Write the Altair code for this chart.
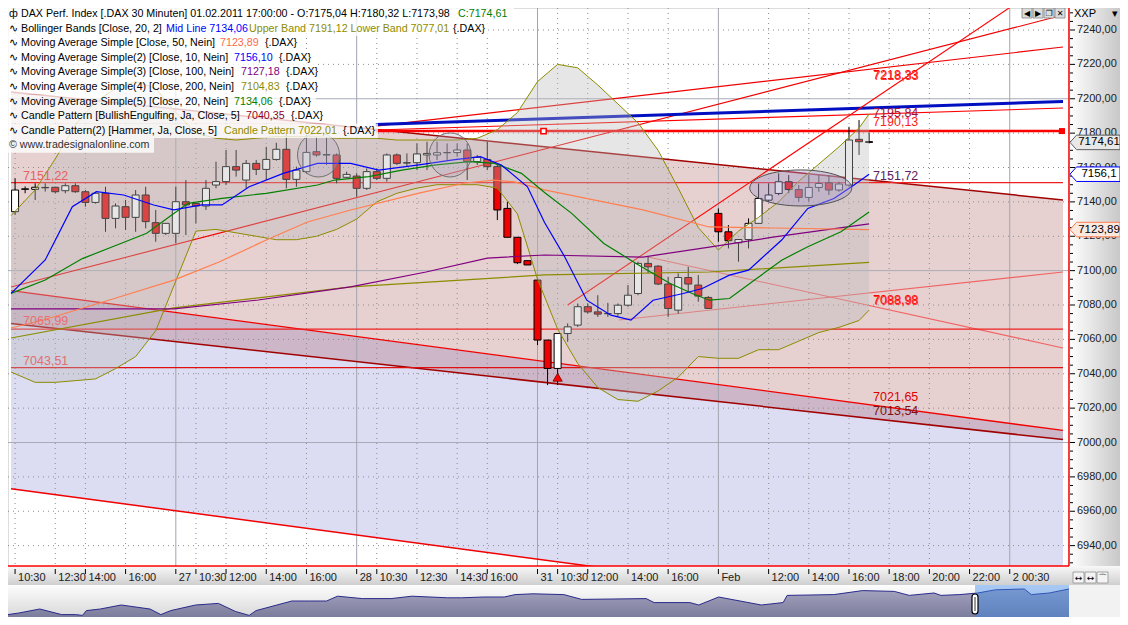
import altair as alt
import pandas as pd

W, H = 1060, 558
I_LO, I_HI = -0.206, 104.3
V_LO, V_HI = 6928.15, 7252.8
FONT = "Liberation Sans"

# ---------------- candles: 30-minute bars, bar 0 = 26.01. 10:30, bar 85 = 01.02. 17:00
c_open = [7134.3, 7147.3, 7147.3, 7148.2, 7148.5, 7146.5, 7149.4, 7145.9, 7139.7, 7145.0,
          7130.4, 7137.2, 7131.0, 7144.0, 7127.9, 7121.7, 7121.7, 7140.1, 7139.1, 7137.6,
          7149.8, 7151.8, 7160.5, 7152.7, 7162.4, 7158.9, 7164.7, 7170.6, 7153.1, 7157.6,
          7169.2, 7167.5, 7167.3, 7154.3, 7155.0, 7147.9, 7157.6, 7153.7, 7167.3, 7162.6,
          7162.8, 7167.3, 7167.3, 7168.6, 7168.7, 7170.2, 7163.4, 7164.7, 7160.5, 7136.2,
          7119.4, 7105.8, 7094.5, 7059.6, 7043.1, 7063.4, 7068.3, 7079.0, 7076.0, 7075.0,
          7075.0, 7079.9, 7086.7, 7104.2, 7102.6, 7092.2, 7077.0, 7096.0, 7091.6, 7084.4,
          7133.3, 7122.6, 7116.2, 7118.1, 7127.5, 7141.0, 7144.9, 7151.7, 7147.2, 7142.6,
          7148.4, 7151.1, 7146.9, 7149.8, 7176.4, 7175.04]
c_high = [7153.7, 7149.0, 7150.8, 7150.8, 7148.8, 7150.8, 7150.8, 7146.9, 7145.9, 7148.8,
          7139.1, 7141.1, 7146.9, 7148.8, 7135.3, 7127.5, 7148.8, 7152.7, 7139.1, 7152.7,
          7163.4, 7170.2, 7170.2, 7164.4, 7164.4, 7172.0, 7174.4, 7180.0, 7160.5, 7179.0,
          7178.0, 7178.0, 7168.2, 7157.6, 7156.6, 7159.5, 7159.5, 7168.2, 7168.2, 7168.2,
          7174.0, 7175.0, 7175.0, 7174.0, 7174.0, 7174.0, 7167.3, 7175.0, 7162.4, 7140.1,
          7119.4, 7105.8, 7095.5, 7059.6, 7063.4, 7069.3, 7080.9, 7080.9, 7085.7, 7081.3,
          7080.9, 7091.6, 7105.2, 7108.1, 7103.2, 7096.4, 7098.4, 7102.2, 7097.4, 7085.2,
          7136.2, 7126.5, 7118.1, 7130.4, 7150.7, 7150.7, 7156.6, 7155.6, 7149.8, 7155.6,
          7155.6, 7155.6, 7151.7, 7183.7, 7187.6, 7180.32]
c_low = [7132.4, 7145.0, 7141.1, 7146.0, 7145.0, 7145.0, 7145.3, 7137.2, 7139.0, 7122.6,
         7124.6, 7123.6, 7122.6, 7124.6, 7116.8, 7120.7, 7115.9, 7120.7, 7127.5, 7135.3,
         7147.9, 7149.8, 7154.7, 7147.9, 7155.6, 7152.7, 7164.0, 7147.9, 7148.8, 7156.6,
         7166.3, 7161.5, 7150.8, 7153.7, 7143.0, 7146.9, 7152.7, 7151.8, 7161.5, 7160.5,
         7158.5, 7158.5, 7164.4, 7164.4, 7166.3, 7152.7, 7161.5, 7158.5, 7129.4, 7119.4,
         7103.8, 7103.3, 7056.7, 7033.4, 7033.4, 7058.6, 7067.3, 7075.0, 7073.1, 7073.1,
         7073.1, 7079.0, 7085.7, 7098.4, 7091.6, 7073.1, 7075.0, 7087.7, 7081.9, 7078.0,
         7116.8, 7112.9, 7105.2, 7112.9, 7127.5, 7140.1, 7143.9, 7145.0, 7140.1, 7140.1,
         7145.9, 7144.0, 7145.9, 7148.8, 7167.3, 7173.98]
c_close = [7146.9, 7147.6, 7148.5, 7148.4, 7145.9, 7149.4, 7145.9, 7139.7, 7145.0, 7130.4,
           7137.6, 7131.0, 7144.0, 7128.5, 7121.7, 7127.5, 7140.1, 7138.2, 7137.6, 7147.9,
           7151.8, 7160.5, 7158.5, 7162.4, 7158.9, 7164.7, 7170.6, 7153.1, 7158.5, 7168.8,
           7167.3, 7167.3, 7153.7, 7156.0, 7147.9, 7157.6, 7153.7, 7167.3, 7162.4, 7162.8,
           7167.9, 7168.2, 7168.6, 7168.7, 7170.2, 7163.4, 7165.9, 7160.5, 7135.3, 7119.4,
           7104.6, 7103.3, 7059.6, 7043.1, 7063.4, 7067.3, 7079.0, 7076.0, 7074.7, 7075.0,
           7079.9, 7085.7, 7104.2, 7102.2, 7092.2, 7078.0, 7096.0, 7092.2, 7085.2, 7078.0,
           7122.6, 7117.4, 7118.1, 7127.5, 7142.0, 7144.0, 7151.7, 7147.2, 7142.6, 7148.4,
           7150.7, 7146.9, 7150.4, 7176.0, 7175.0, 7174.61]

# ---------------- Bollinger Bands (20, 2)
bb_i = [-0.4, 2, 4, 6, 8, 10, 12, 14, 16, 18, 20, 22, 24, 26, 28, 30, 32, 34, 36, 38, 40, 42,
        44, 46, 48, 50, 52, 54, 56, 58, 60, 62, 64, 66, 68, 70, 72, 74, 76, 78, 80, 82, 84, 85]
bb_upper = [7132, 7147, 7165, 7185, 7198, 7206, 7210, 7206, 7192, 7180, 7177, 7176, 7177, 7178,
            7178, 7178, 7177, 7177, 7177, 7176, 7176, 7176, 7176, 7177, 7182, 7192, 7210, 7220,
            7218, 7208, 7197, 7186, 7170, 7148, 7125, 7112, 7123, 7131, 7140, 7152, 7162, 7172,
            7183, 7191.12]
bb_lower = [7041, 7035, 7035, 7036, 7037, 7043, 7050, 7065, 7094, 7123, 7124, 7122, 7120, 7118,
            7118, 7120, 7124, 7130, 7140, 7145, 7148, 7150, 7150, 7150, 7148, 7133, 7095, 7066,
            7046, 7032, 7025, 7024, 7030, 7038, 7050, 7049, 7049, 7054, 7054, 7059, 7064, 7067,
            7071, 7077.01]

# ---------------- moving averages
ma10_i = [-0.4, 3.0, 5.7, 8.1, 10.8, 13.8, 15.8, 18.6, 20.6, 23.3, 26.7, 30.1, 33.4, 36.2, 40.2,
          43.6, 46.3, 48.4, 51.0, 52.7, 54.7, 56.9, 59.3, 61.3, 63.5, 66.5, 68.4, 71.1, 73.0, 76.3,
          78.9, 81.5, 83.5, 85.0]
ma10_v = [7086.8, 7106.2, 7137.2, 7145.9, 7144.0, 7138.2, 7135.3, 7138.2, 7138.2, 7148.8, 7156.6,
          7162.4, 7162.4, 7158.5, 7161.5, 7164.4, 7166.3, 7161.5, 7148.8, 7128.0, 7108.1, 7082.8,
          7074.1, 7071.2, 7082.8, 7086.7, 7089.6, 7097.4, 7100.3, 7117.8, 7136.2, 7142.0, 7149.8,
          7156.10]
ma20_i = [-0.4, 3.0, 6.7, 9.7, 13.1, 15.8, 17.2, 20.6, 25.0, 30.1, 31.8, 35.2, 38.5, 41.9, 45.3,
          47.7, 50.4, 52.7, 55.4, 58.6, 61.8, 65.2, 67.4, 69.1, 71.1, 73.6, 76.3, 78.9, 82.2, 85.0]
ma20_v = [7086.8, 7094.5, 7107.0, 7113.9, 7121.7, 7133.3, 7139.1, 7142.0, 7145.0, 7149.8, 7152.7,
          7154.7, 7158.5, 7161.5, 7163.4, 7162.4, 7156.6, 7145.5, 7133.3, 7115.8, 7104.2, 7092.5,
          7086.7, 7082.8, 7083.8, 7094.5, 7106.1, 7113.9, 7122.6, 7134.06]
ma50_i = [-0.4, 2.8, 9.4, 15.8, 20.3, 25.0, 29.1, 33.4, 40.2, 44.8, 47.7, 49.7, 52.7, 56.6, 62.5,
          69.1, 75.6, 85.0]
ma50_v = [7066.6, 7071.3, 7082.9, 7094.5, 7105.0, 7117.8, 7128.3, 7135.3, 7145.1, 7151.0, 7152.7,
          7151.6, 7147.0, 7142.3, 7135.3, 7125.4, 7124.8, 7123.89]
ma100_i = [-0.4, 15.8, 24.2, 33.4, 40.9, 47.0, 52.7, 62.5, 69.1, 75.6, 85.0]
ma100_v = [7077.7, 7077.7, 7082.9, 7090.5, 7099.2, 7107.3, 7109.1, 7107.9, 7113.7, 7119.6, 7127.18]
ma200_i = [-0.4, 15.8, 33.4, 52.7, 69.1, 85.0]
ma200_v = [7060.8, 7078.3, 7090.5, 7097.5, 7099.2, 7104.83]

# ---------------- drawn trendlines / levels (start bar, start price, end bar, end price)
tl_name = ["d", "a", "b", "c", "h", "g", "blue", "thin", "lvl", "f", "k", "m", "l1", "l2", "l3"]
tl_i0 = [-0.4, -0.4, -0.4, -0.4, -0.4, 35.9, 35.9, 35.9, 35.9, 55.0, 60.1, 63.0, -0.4, -0.4, -0.4]
tl_v0 = [7203.9, 7088.4, 7069.2, 6973.1, 7090.5, 7184.1, 7185.0, 7181.8, 7181.2, 7080.0, 7071.3,
         7107.9, 7151.22, 7065.99, 7043.51]
tl_i1 = [104.3, 104.3, 104.3, 104.3, 104.3, 104.3, 104.3, 104.3, 104.3, 100.1, 104.3, 104.3,
         104.3, 104.3, 104.3]
tl_v1 = [7141.1, 7007.0, 7001.7, 6891.3, 7248.7, 7230.1, 7198.4, 7194.6, 7181.2, 7257.4, 7099.2,
         7055.0, 7151.22, 7065.99, 7043.51]
tl_color = ["#a00000", "#f00000", "#a00000", "#f00000", "#f00000", "#f00000", "#0010c0", "#ff0000",
            "#ff0000", "#ff0000", "#f06464", "#f06464", "#f02020", "#f02020", "#e01010"]
tl_width = [1.5, 1.3, 1.5, 1.5, 1.1, 1.1, 3.0, 1.1, 2.5, 1.1, 1.1, 1.1, 1.2, 1.2, 1.2]

lab_text = ["7218,33", "7218,33", "7195,84", "7190,13", "7151,72", "7088,98", "7088,98",
            "7021,65", "7013,54", "7151,22", "7065,99", "7043,51"]
lab_i = [85.4, 85.45, 85.4, 85.4, 85.4, 85.4, 85.45, 85.4, 85.4, 0.8, 0.8, 0.8]
lab_v = [7213.8, 7213.3, 7191.7, 7186.5, 7155.1, 7082.9, 7082.4, 7026.5, 7018.3, 7155.1, 7070.7,
         7047.4]
lab_col = ["#ff0000", "#ff3030", "#a01040", "#ff2020", "#602060", "#ff0000", "#ff3030",
           "#e00000", "#801010", "#e86060", "#e87070", "#e07070"]

# ---------------- axis ticks
xt_i = [0, 4, 7, 11, 16, 18, 21, 25, 29, 34, 36, 40, 44, 47, 52, 54, 57, 61, 65, 70, 75, 79, 83,
        87, 91, 95, 99]
xt_lab = ["10:30", "12:30", "14:00", "16:00", "27", "10:30", "12:00", "14:00", "16:00", "28",
          "10:30", "12:30", "14:30", "16:00", "31", "10:30", "12:00", "14:00", "16:00", "Feb",
          "12:00", "14:00", "16:00", "18:00", "20:00", "22:00", "2 00:30"]
day_labels = {"27", "28", "31", "Feb", "2 00:30"}
yt_major = list(range(6940, 7241, 20))
yt_minor = [v for v in range(6930, 7251, 5) if v % 20 != 0]

tag_v = [7174.61, 7156.1, 7123.89]
tag_lab = ["7174,61", "7156,1", "7123,89"]

# ---------------- overview strip (long-term history)
ov_t = [0, 11, 32, 54, 68, 75, 79, 93, 114, 143, 154, 164, 189, 212, 229, 243, 250, 271, 286,
        304, 321, 332, 357, 386, 407, 443, 457, 479, 500, 511, 529, 560, 578, 643, 651, 687, 696,
        716, 759, 781, 785, 832, 861, 893, 908, 933, 940, 959, 977, 995, 1024, 1031, 1049, 1069]
ov_level = [3, 5, 10, 3, 3, 2, 8, 10, 15, 10, 3, 8, 15, 17, 7, 2, 8, 15, 20, 20, 20, 26, 23, 23,
            26, 24, 24, 25, 25, 28, 29, 28, 22, 23, 18, 18, 15, 25, 15, 18, 27, 28, 33, 32, 27,
            30, 27, 28, 30, 34, 35, 28, 30, 35]

# ================= build =================
xs = alt.Scale(domain=[I_LO, I_HI], nice=False, zero=False)
ys = alt.Scale(domain=[V_LO, V_HI], nice=False, zero=False)


def xq(f):
    return alt.X(f"{f}:Q", scale=xs, axis=None)


def yq(f):
    return alt.Y(f"{f}:Q", scale=ys, axis=None)


def pxx(f):
    return alt.X(f"{f}:Q", scale=None, axis=None)


def pxy(f):
    return alt.Y(f"{f}:Q", scale=None, axis=None)


one = pd.DataFrame({"a": [0]})
T = {n: k for k, n in enumerate(tl_name)}


def band(top, bot):
    return pd.DataFrame({"i": [tl_i0[T[top]], tl_i1[T[top]]],
                         "top": [tl_v0[T[top]], tl_v1[T[top]]],
                         "bot": [tl_v0[T[bot]], tl_v1[T[bot]]]})


layers = []
# background channel fills
for top, bot, col in [("d", "a", "#e7d0d0"), ("a", "b", "#cdb6c8"), ("b", "c", "#dcdcf2")]:
    layers.append(alt.Chart(band(top, bot)).mark_area(clip=True, color=col, opacity=1)
                  .encode(x=xq("i"), y=yq("bot"), y2="top:Q"))

# grid
hg = pd.DataFrame({"v": yt_major})
hg["solid"] = [v % 100 == 0 for v in yt_major]
layers.append(alt.Chart(hg[~hg.solid]).mark_rule(color="#8c8c8c", strokeDash=[1, 4], strokeWidth=1)
              .encode(y=yq("v"), x=alt.value(0), x2=alt.value(1061)))
layers.append(alt.Chart(hg[hg.solid]).mark_rule(color="#a9acb8", strokeWidth=1)
              .encode(y=yq("v"), x=alt.value(0), x2=alt.value(1061)))
vg = pd.DataFrame({"i": xt_i, "lab": xt_lab})
vg["day"] = vg.lab.isin(day_labels)
layers.append(alt.Chart(vg[~vg.day]).mark_rule(color="#8c8c8c", strokeDash=[1, 4], strokeWidth=1)
              .encode(x=xq("i"), y=alt.value(0), y2=alt.value(H)))
layers.append(alt.Chart(vg[vg.day]).mark_rule(color="#a4a4b0", strokeWidth=1)
              .encode(x=xq("i"), y=alt.value(0), y2=alt.value(H)))

# trendlines
rows = []
for k, n in enumerate(tl_name):
    rows.append({"seg": n, "i": tl_i0[k], "v": tl_v0[k], "col": tl_color[k], "w": tl_width[k]})
    rows.append({"seg": n, "i": tl_i1[k], "v": tl_v1[k], "col": tl_color[k], "w": tl_width[k]})
tl_df = pd.DataFrame(rows)
layers.append(alt.Chart(tl_df).mark_line(clip=True).encode(
    x=xq("i"), y=yq("v"), detail="seg:N",
    color=alt.Color("col:N", scale=None), strokeWidth=alt.StrokeWidth("w:Q", scale=None)))

# candles
bars = pd.DataFrame({"i": list(range(len(c_open))), "open": c_open, "high": c_high,
                     "low": c_low, "close": c_close})
bars["fill"] = ["#ffffff" if c >= o else "#f00000" for o, c in zip(c_open, c_close)]
layers.append(alt.Chart(bars).mark_rule(color="#000000", strokeWidth=1)
              .encode(x=xq("i"), y=yq("low"), y2="high:Q"))
layers.append(alt.Chart(bars).mark_bar(size=7, stroke="#000000", strokeWidth=1)
              .encode(x=xq("i"), y=yq("open"), y2="close:Q", fill=alt.Fill("fill:N", scale=None)))

# Bollinger cloud
bb = pd.DataFrame({"i": bb_i, "up": bb_upper, "lo": bb_lower})
layers.append(alt.Chart(bb).mark_area(clip=True, color="#bbbbbb", opacity=0.36)
              .encode(x=xq("i"), y=yq("lo"), y2="up:Q"))
for f in ["up", "lo"]:
    layers.append(alt.Chart(bb).mark_line(clip=True, color="#8c8c00", strokeWidth=1)
                  .encode(x=xq("i"), y=yq(f)))

# moving averages
mrows = []
for name, col, ii, vv in [("MA200", "#8c8c00", ma200_i, ma200_v), ("MA100", "#800080", ma100_i, ma100_v),
                          ("MA50", "#ff7f50", ma50_i, ma50_v), ("MA20", "#008000", ma20_i, ma20_v),
                          ("MA10", "#0000ff", ma10_i, ma10_v)]:
    for a, b in zip(ii, vv):
        mrows.append({"name": name, "col": col, "i": a, "v": b})
layers.append(alt.Chart(pd.DataFrame(mrows)).mark_line(clip=True, strokeWidth=1.2).encode(
    x=xq("i"), y=yq("v"), detail="name:N", color=alt.Color("col:N", scale=None)))

# pattern ellipses
k = 0.5523


def ell(q):
    return (f"M 1 0 C 1 {k*q:.3f} {k} {q} 0 {q} C {-k} {q} -1 {k*q:.3f} -1 0 "
            f"C -1 {-k*q:.3f} {-k} {-q} 0 {-q} C {k} {-q} 1 {-k*q:.3f} 1 0 Z")


ell_df = pd.DataFrame({"i": [30.2, 43.3], "v": [7167.3, 7167.3]})
layers.append(alt.Chart(ell_df).mark_point(shape=ell(1.05), size=1764, filled=True, color="#b4a8c4",
                                           fillOpacity=0.3, stroke="#707070", strokeWidth=1, opacity=1)
              .encode(x=xq("i"), y=yq("v")))
ell3 = pd.DataFrame({"i": [78.2], "v": [7148.1]})
layers.append(alt.Chart(ell3).mark_point(shape=ell(0.353), size=10404, filled=True, color="#a498c8",
                                         fillOpacity=0.4, stroke="#505050", strokeWidth=1, opacity=1)
              .encode(x=xq("i"), y=yq("v")))
# hammer marker
layers.append(alt.Chart(pd.DataFrame({"i": [54], "v": [7038.0]})).mark_point(
    shape="triangle-up", size=85, filled=True, color="#ff0000", stroke="#700000", strokeWidth=0.8,
    opacity=1).encode(x=xq("i"), y=yq("v")))
# handles of the level line
layers.append(alt.Chart(pd.DataFrame({"i": [52.6], "v": [7181.2]})).mark_point(
    shape="square", size=28, filled=True, color="#ffffff", stroke="#ff0000", strokeWidth=1.5,
    opacity=1).encode(x=xq("i"), y=yq("v")))
layers.append(alt.Chart(pd.DataFrame({"i": [104.2], "v": [7181.2]})).mark_point(
    shape="square", size=36, filled=True, color="#ff0000", opacity=1).encode(x=xq("i"), y=yq("v")))

# level labels
lab_df = pd.DataFrame({"i": lab_i, "v": lab_v, "t": lab_text, "c": lab_col})
layers.append(alt.Chart(lab_df).mark_text(align="left", baseline="middle", font=FONT, fontSize=12.5)
              .encode(x=xq("i"), y=yq("v"), text="t:N", color=alt.Color("c:N", scale=None)))

# legend block
leg = [
    [("ф", "#000000", 3), ("DAX Perf. Index [.DAX  30 Minuten] 01.02.2011 17:00:00 - O:7175,04 H:7180,32 L:7173,98", "#000000", 15),
     ("C:7174,61", "#008000", 452)],
    [("∿", "#000000", 3), ("Bollinger Bands [Close, 20, 2]", "#000000", 15), ("Mid Line 7134,06", "#0000ff", 160), ("Upper Band 7191,12 Lower Band 7077,01", "#8c8c00", 243), ("{.DAX}", "#000000", 447)],
    [("∿", "#000000", 3), ("Moving Average Simple [Close, 50, Nein]", "#000000", 15), ("7123,89", "#ff6a48", 214), ("{.DAX}", "#000000", 259)],
    [("∿", "#000000", 3), ("Moving Average Simple(2) [Close, 10, Nein]", "#000000", 15), ("7156,10", "#0000ff", 228), ("{.DAX}", "#000000", 273)],
    [("∿", "#000000", 3), ("Moving Average Simple(3) [Close, 100, Nein]", "#000000", 15), ("7127,18", "#800080", 235), ("{.DAX}", "#000000", 280)],
    [("∿", "#000000", 3), ("Moving Average Simple(4) [Close, 200, Nein]", "#000000", 15), ("7104,83", "#8c8c00", 235), ("{.DAX}", "#000000", 280)],
    [("∿", "#000000", 3), ("Moving Average Simple(5) [Close, 20, Nein]", "#000000", 15), ("7134,06", "#008000", 228), ("{.DAX}", "#000000", 273)],
    [("∿", "#000000", 3), ("Candle Pattern [BullishEngulfing, Ja, Close, 5]", "#000000", 15), ("7040,35", "#8b0020", 240), ("{.DAX}", "#000000", 285)],
    [("∿", "#000000", 3), ("Candle Pattern(2) [Hammer, Ja, Close, 5]", "#000000", 15), ("Candle Pattern 7022,01", "#8c8c00", 218), ("{.DAX}", "#000000", 337)],
    [("© www.tradesignalonline.com", "#303030", 3)],
]
leg_end = [508, 482, 296, 310, 318, 318, 310, 322, 372, 148]
lrows, brows = [], []
for n, segs in enumerate(leg):
    yc = 6 + 14.6 * n
    brows.append({"x0": 0, "x1": leg_end[n] - 2, "y0": yc - 7.3, "y1": yc + 7.3})
    for t, c, x in segs:
        lrows.append({"x": x - 2, "y": yc, "t": t, "c": c})
layers.append(alt.Chart(pd.DataFrame(brows)).mark_rect(color="#ffffff", opacity=0.78)
              .encode(x=pxx("x0"), x2="x1:Q", y=pxy("y0"), y2="y1:Q"))
layers.append(alt.Chart(pd.DataFrame(lrows)).mark_text(align="left", baseline="middle", font=FONT,
                                                        fontSize=10.7)
              .encode(x=pxx("x"), y=pxy("y"), text="t:N", color=alt.Color("c:N", scale=None)))

# right price axis panel
grad_h = alt.LinearGradient(gradient="linear", x1=0, x2=1, y1=0, y2=0,
                            stops=[alt.GradientStop(color="#ffffff", offset=0),
                                   alt.GradientStop(color="#c8c8c8", offset=1)])
grad_v = alt.LinearGradient(gradient="linear", x1=0, x2=0, y1=0, y2=1,
                            stops=[alt.GradientStop(color="#f8f8f8", offset=0),
                                   alt.GradientStop(color="#cfcfcf", offset=1)])
layers.append(alt.Chart(one).mark_rect(fill=grad_h).encode(
    x=alt.value(1061), x2=alt.value(1112), y=alt.value(0), y2=alt.value(H)))
layers.append(alt.Chart(one).mark_rect(fill=grad_v).encode(
    x=alt.value(0), x2=alt.value(1112), y=alt.value(H), y2=alt.value(577)))
layers.append(alt.Chart(pd.DataFrame({"v": yt_major})).mark_rule(color="#000000", strokeWidth=1)
              .encode(y=yq("v"), x=alt.value(1062), x2=alt.value(1067)))
layers.append(alt.Chart(pd.DataFrame({"v": yt_minor})).mark_rule(color="#000000", strokeWidth=1)
              .encode(y=yq("v"), x=alt.value(1062), x2=alt.value(1065)))
ylab = pd.DataFrame({"v": yt_major, "t": [f"{v:.2f}".replace(".", ",") for v in yt_major]})
layers.append(alt.Chart(ylab).mark_text(align="left", baseline="middle", font=FONT, fontSize=11,
                                        color="#202020")
              .encode(y=yq("v"), x=alt.value(1069), text="t:N"))
# price tags
tag_path = "M -1 0 L -0.74 -0.29 L 1 -0.29 L 1 0.29 L -0.74 0.29 Z"
tg = pd.DataFrame({"v": tag_v, "t": tag_lab, "f": ["#e8e8e8", "#ffffff", "#fbe8df"],
                   "s": ["#606060", "#0000ff", "#ff7f50"]})
layers.append(alt.Chart(tg).mark_point(shape=tag_path, size=2500, filled=True, strokeWidth=1,
                                       opacity=1)
              .encode(x=alt.value(1087), y=yq("v"), fill=alt.Fill("f:N", scale=None),
                      stroke=alt.Stroke("s:N", scale=None)))
layers.append(alt.Chart(tg).mark_text(align="center", baseline="middle", font=FONT, fontSize=11.5,
                                      color="#000000")
              .encode(x=alt.value(1091), y=yq("v"), text="t:N"))
# header of price axis
layers.append(alt.Chart(pd.DataFrame({"x": [1066, 1104], "t": ["XXP", "▾"]})).mark_text(
    align="left", baseline="middle", font=FONT, fontSize=11, color="#000000")
    .encode(x=pxx("x"), y=alt.value(6), text="t:N"))
# small window buttons
btn = pd.DataFrame({"x0": [1014, 1025, 1036, 1047], "t": ["◀", "▶", "❐", "✕"]})
btn["x1"] = btn.x0 + 10
btn["xc"] = btn.x0 + 5
layers.append(alt.Chart(btn).mark_rect(fill="#dcdcdc", stroke="#808080", strokeWidth=0.8)
              .encode(x=pxx("x0"), x2="x1:Q", y=alt.value(0), y2=alt.value(10)))
layers.append(alt.Chart(btn).mark_text(align="center", baseline="middle", fontSize=8,
                                       font="DejaVu Sans", color="#000000")
              .encode(x=pxx("xc"), y=alt.value(5.5), text="t:N"))
# border lines of plot
layers.append(alt.Chart(one).mark_rule(color="#ff0000", strokeWidth=1.5).encode(
    x=alt.value(1061), y=alt.value(0), y2=alt.value(H)))
layers.append(alt.Chart(one).mark_rule(color="#ff0000", strokeWidth=1.5).encode(
    x=alt.value(0), x2=alt.value(1061), y=alt.value(H)))
# time axis ticks & labels
layers.append(alt.Chart(vg).mark_rule(color="#000000", strokeWidth=1)
              .encode(x=xq("i"), y=alt.value(561), y2=alt.value(566)))
layers.append(alt.Chart(vg).mark_text(align="left", baseline="middle", font=FONT, fontSize=11,
                                      dx=3, color="#202020")
              .encode(x=xq("i"), y=alt.value(570), text="lab:N"))
# bottom-right buttons
bb2 = pd.DataFrame({"x0": [1065, 1077, 1089], "t": ["↔", "↔", "⌒"]})
bb2["x1"] = bb2.x0 + 11
bb2["xc"] = bb2.x0 + 5.5
layers.append(alt.Chart(bb2).mark_rect(fill="#f4f4f4", stroke="#909090", strokeWidth=0.8)
              .encode(x=pxx("x0"), x2="x1:Q", y=alt.value(564), y2=alt.value(575)))
layers.append(alt.Chart(bb2).mark_text(align="center", baseline="middle", fontSize=9,
                                       font="DejaVu Sans", color="#000000")
              .encode(x=pxx("xc"), y=alt.value(569.5), text="t:N"))

main = alt.layer(*layers)

# ---------------- overview strip
ovx = alt.Scale(domain=[0, 1069], range=[0, 1061], nice=False, zero=False)
ovy = alt.Scale(domain=[0, 40], range=[609, 577], nice=False, zero=False)
ov = pd.DataFrame({"t": ov_t, "lv": ov_level})
grad_ov = alt.LinearGradient(gradient="linear", x1=0, x2=0, y1=0, y2=1,
                             stops=[alt.GradientStop(color="#fdfdfd", offset=0),
                                    alt.GradientStop(color="#d8d8d8", offset=1)])
grad_area = alt.LinearGradient(gradient="linear", x1=0, x2=0, y1=0, y2=1,
                               stops=[alt.GradientStop(color="#a4a4bf", offset=0),
                                      alt.GradientStop(color="#7c7c9c", offset=1)])
ov_layers = [
    alt.Chart(one).mark_rect(fill=grad_ov).encode(x=alt.value(0), x2=alt.value(1112),
                                                  y=alt.value(577), y2=alt.value(609)),
    alt.Chart(ov).mark_area(fill=grad_area, opacity=1).encode(
        x=alt.X("t:Q", scale=ovx, axis=None), y=alt.Y("lv:Q", scale=ovy, axis=None)),
    alt.Chart(ov).mark_line(color="#2a2a8c", strokeWidth=1).encode(
        x=alt.X("t:Q", scale=ovx, axis=None), y=alt.Y("lv:Q", scale=ovy, axis=None)),
    alt.Chart(one).mark_rect(fill="#3d8ae6", opacity=0.45).encode(
        x=alt.value(967), x2=alt.value(1061), y=alt.value(577), y2=alt.value(609)),
    alt.Chart(one).mark_rect(fill="#ffffff", stroke="#000000", strokeWidth=1.2, cornerRadius=3).encode(
        x=alt.value(964), x2=alt.value(970), y=alt.value(586), y2=alt.value(606)),
    alt.Chart(one).mark_rule(color="#000000", strokeWidth=0.8).encode(
        x=alt.value(967), y=alt.value(589), y2=alt.value(603)),
    alt.Chart(one).mark_rect(fill="#f2f2f2").encode(
        x=alt.value(1061), x2=alt.value(1112), y=alt.value(577), y2=alt.value(609)),
]
ovl = alt.layer(*ov_layers)

chart = (alt.layer(main, ovl)
         .resolve_scale(x="independent", y="independent")
         .properties(width=W, height=H, autosize=alt.AutoSizeParams(type="none"),
                     padding={"left": 0, "top": 0, "right": 52, "bottom": 51})
         .configure_view(stroke=None, fill="#f6f6f6")
         .configure(background="#ffffff"))

chart.save("out.html", embed_options={"renderer": "svg", "actions": False})
